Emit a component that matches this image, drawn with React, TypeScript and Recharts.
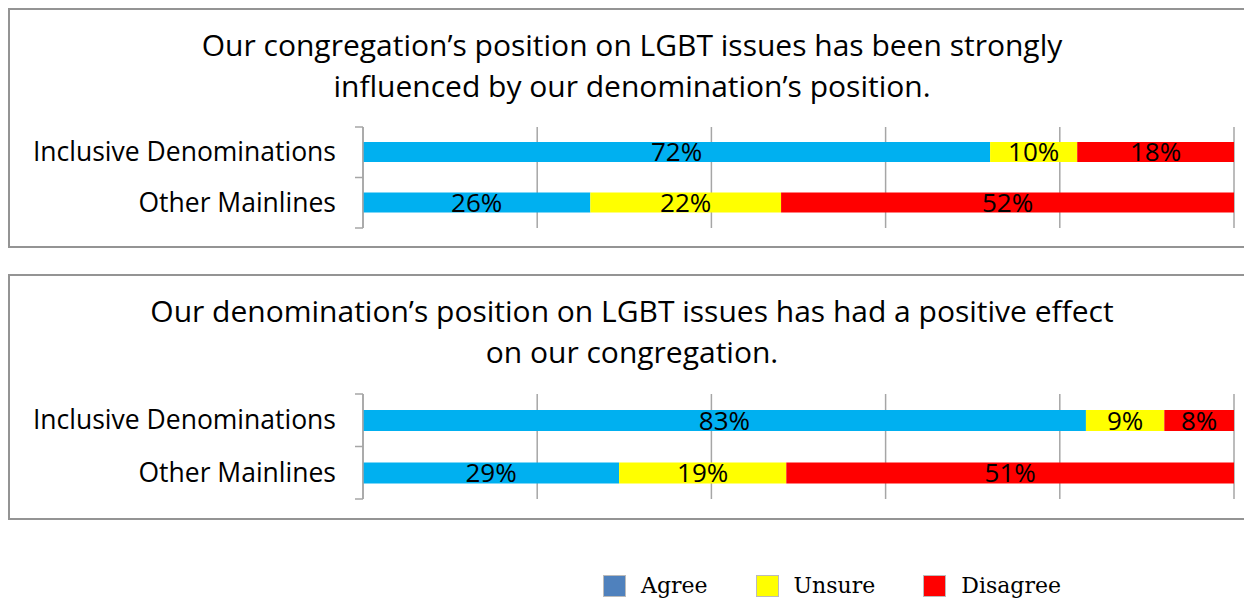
import { BarChart, Bar, XAxis, YAxis, CartesianGrid, LabelList } from 'recharts';

const categories = ['Inclusive Denominations', 'Other Mainlines'];

// influenced by denomination's position
const q1Agree = [72, 26.1];
const q1Unsure = [10, 21.9];
const q1Disagree = [18, 52];

// positive effect on congregation
const q2Agree = [83, 29.4];
const q2Unsure = [9, 19.2];
const q2Disagree = [8, 51.4];

const q1Title = ['Our congregation\u2019s position on LGBT issues has been strongly', 'influenced by our denomination\u2019s position.'];
const q2Title = ['Our denomination\u2019s position on LGBT issues has had a positive effect', 'on our congregation.'];

const xTicks = [0, 20, 40, 60, 80, 100];

const SERIES = [
  { key: 'agree', name: 'Agree', fill: '#00B0F0', swatch: '#4F81BD' },
  { key: 'unsure', name: 'Unsure', fill: '#FFFF00', swatch: '#FFFF00' },
  { key: 'disagree', name: 'Disagree', fill: '#FF0000', swatch: '#FF0000' },
];

const SANS = '"Open Sans", sans-serif';
const GRID = '#a6a6a6';

const build = (a: number[], u: number[], d: number[]) =>
  categories.map((name, i) => ({ name, agree: a[i], unsure: u[i], disagree: d[i] }));

const CatTick = (props: any) => {
  const { x, y, payload, index, last } = props;
  const off = payload.offset ?? 25;
  return (
    <g>
      <line x1={x - 8} x2={x} y1={y - off} y2={y - off} stroke={GRID} strokeWidth={1.5} />
      {index === last && <line x1={x - 8} x2={x} y1={y + off} y2={y + off} stroke={GRID} strokeWidth={1.5} />}
      <text x={x - 27} y={y + 9} textAnchor="end" fontSize={26.5} fontFamily={SANS} fill="#000">
        {payload.value}
      </text>
    </g>
  );
};

interface PanelProps {
  top: number;
  height: number;
  title: string[];
  data: any[];
  plotTop: number;
  plotBottom: number;
  barSize: number;
}

const Panel = ({ top, height, title, data, plotTop, plotBottom, barSize }: PanelProps) => (
  <>
    <div style={{
      position: 'absolute', left: 0, top, width: 1280, height: height - 4,
      borderTop: '2px solid #949494', borderLeft: '2px solid #949494', borderBottom: '2px solid #949494',
    }} />
    <div style={{
      position: 'absolute', left: 0, top: top + 16, width: 1248, textAlign: 'center',
      fontFamily: SANS, fontSize: 30, lineHeight: '41px', color: '#000',
    }}>
      {title.map((t) => <div key={t}>{t}</div>)}
    </div>
    <div style={{ position: 'absolute', left: 0, top }}>
      <BarChart width={1244} height={height} data={data} layout="vertical"
        margin={{ top: plotTop, bottom: plotBottom, left: 0, right: 18 }} barSize={barSize}>
        <CartesianGrid horizontal={false} stroke={GRID} strokeWidth={1.5} />
        <XAxis type="number" domain={[0, 100]} ticks={xTicks} hide />
        <YAxis type="category" dataKey="name" width={355} axisLine={{ stroke: GRID, strokeWidth: 1.5 }}
          tickLine={false} tickSize={0} tickMargin={0}
          tick={(p: any) => <CatTick {...p} last={data.length - 1} />} />
        {SERIES.map((s) => (
          <Bar key={s.key} dataKey={s.key} name={s.name} stackId="a" fill={s.fill} isAnimationActive={false}>
            <LabelList dataKey={s.key} position="center" fill="#000" fontSize={26} fontFamily={SANS}
              formatter={(v: any) => `${Math.round(Number(v))}%`} />
          </Bar>
        ))}
      </BarChart>
    </div>
  </>
);

export default function App() {
  return (
    <div style={{ position: 'relative', width: 1244, height: 592, overflow: 'hidden', background: '#fff' }}>
      <Panel top={0} height={240} title={q1Title} data={build(q1Agree, q1Unsure, q1Disagree)}
        plotTop={119} plotBottom={20} barSize={20} />
      <Panel top={266} height={246} title={q2Title} data={build(q2Agree, q2Unsure, q2Disagree)}
        plotTop={120} plotBottom={21} barSize={21} />
      <div style={{
        position: 'absolute', left: 595, top: 565, display: 'flex', alignItems: 'center',
        fontFamily: '"DejaVu Serif", serif', fontSize: 22, color: '#000',
      }}>
        {SERIES.map((s) => (
          <div key={s.key} style={{ display: 'flex', alignItems: 'center', marginRight: 48 }}>
            <span style={{
              display: 'inline-block', width: 21, height: 20, background: s.swatch,
              border: '1px solid #bbb', marginRight: 15,
            }} />
            <span>{s.name}</span>
          </div>
        ))}
      </div>
    </div>
  );
}
